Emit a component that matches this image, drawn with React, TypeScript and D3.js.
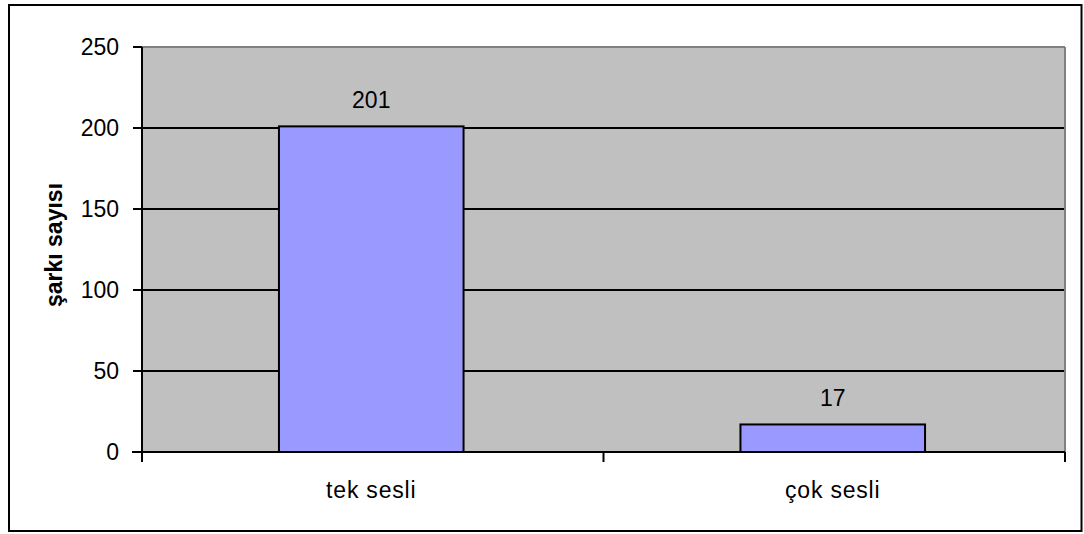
import React from "react";
import * as d3 from "d3";

const categories = ["tek sesli", "çok sesli"];
const values = [201, 17];
const yTicks = [0, 50, 100, 150, 200, 250];
const yTitle = "şarkı sayısı";

export default function App() {
  const W = 1084, H = 534;
  const left = 142, right = 1065, top = 47, bottom = 452;
  const x = d3.scaleBand<string>().domain(categories).range([left, right]).padding(0);
  const y = d3.scaleLinear().domain([0, 250]).range([bottom, top]);
  const bw = x.bandwidth() * 0.4;
  const font = "'Liberation Sans', Arial, sans-serif";
  const fs = 23;
  return (
    <svg width={W} height={H} style={{ position: "absolute", left: 0, top: 0, background: "#fff" }}>
      <rect x={9} y={5} width={1072.5} height={526} fill="#fff" stroke="#000" strokeWidth={2} />
      <rect x={left} y={top} width={right - left} height={bottom - top} fill="#C0C0C0" />
      {yTicks.filter(t => t > 0 && t < 250).map(t => (
        <line key={t} x1={left} x2={right} y1={y(t)} y2={y(t)} stroke="#000" strokeWidth={2} />
      ))}
      <line x1={left} x2={right} y1={top} y2={top} stroke="#808080" strokeWidth={2} />
      <line x1={right} x2={right} y1={top} y2={bottom} stroke="#808080" strokeWidth={2} />
      {categories.map((c, i) => {
        const cx = (x(c) as number) + x.bandwidth() / 2 - 1.5;
        return (
          <g key={c}>
            <rect x={cx - bw / 2} y={y(values[i])} width={bw} height={bottom - y(values[i])}
              fill="#9999FF" stroke="#000" strokeWidth={2} />
            <text x={cx} y={y(values[i]) - 18} textAnchor="middle" fontFamily={font} fontSize={fs} fill="#000">
              {values[i]}
            </text>
            <text x={cx} y={498} textAnchor="middle" fontFamily={font} fontSize={fs} fill="#000" letterSpacing={0.8}>
              {c}
            </text>
          </g>
        );
      })}
      <line x1={left} x2={left} y1={top} y2={bottom + 10} stroke="#000" strokeWidth={2} />
      <line x1={left - 10} x2={right} y1={bottom} y2={bottom} stroke="#000" strokeWidth={2} />
      {yTicks.map(t => (
        <g key={t}>
          <line x1={left - 9} x2={left} y1={y(t)} y2={y(t)} stroke="#000" strokeWidth={2} />
          <text x={119} y={y(t) + 8} textAnchor="end" fontFamily={font} fontSize={fs} fill="#000">{t}</text>
        </g>
      ))}
      {[left, (left + right) / 2, right].map((v, i) => (
        <line key={i} x1={v} x2={v} y1={bottom} y2={bottom + 10} stroke="#000" strokeWidth={2} />
      ))}
      <text transform={`translate(62,245) rotate(-90)`} textAnchor="middle" fontFamily={font}
        fontSize={23} fontWeight="bold" fill="#000">{yTitle}</text>
    </svg>
  );
}
